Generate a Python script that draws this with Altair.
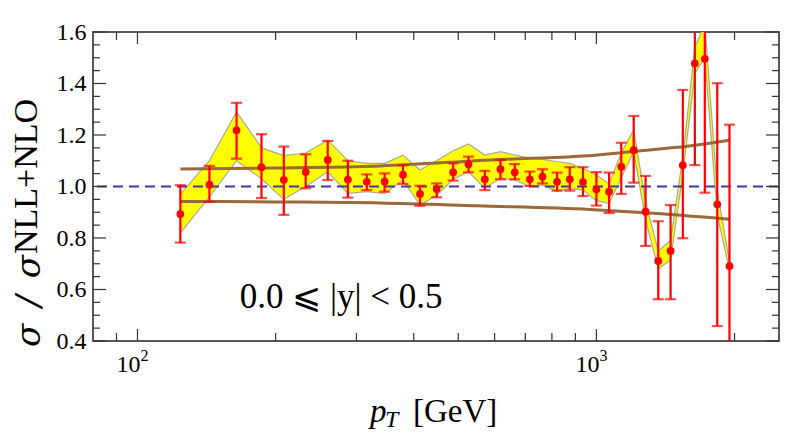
import altair as alt
import pandas as pd

# ---- data ----
pt = [124, 143.5, 164.4, 186.3, 208.4, 232.6, 259.8, 287.4, 316, 345.6, 379, 412.7,
      448.7, 487.5, 526.4, 571.3, 618, 664, 716, 763, 821, 875, 935, 1000, 1066,
      1133, 1206, 1280, 1364, 1451, 1543, 1639, 1723, 1834, 1950]
ratio = [0.893, 1.007, 1.218, 1.075, 1.026, 1.056, 1.103, 1.027, 1.018, 1.019, 1.046, 0.971,
         0.990, 1.055, 1.086, 1.028, 1.067, 1.055, 1.028, 1.038, 1.018, 1.028, 1.017, 0.989,
         0.980, 1.077, 1.141, 0.902, 0.711, 0.750, 1.083, 1.478, 1.496, 0.931, 0.691]
err_hi = [1.005, 1.080, 1.325, 1.203, 1.155, 1.125, 1.177, 1.100, 1.047, 1.051, 1.083, 1.003,
          1.012, 1.090, 1.116, 1.061, 1.103, 1.087, 1.058, 1.067, 1.054, 1.075, 1.075, 1.056,
          1.054, 1.170, 1.274, 1.041, 0.865, 0.928, 1.375, 1.873, 2.016, 1.401, 1.240]
err_lo = [0.782, 0.940, 1.108, 0.955, 0.890, 0.993, 1.025, 0.957, 0.986, 0.980, 1.010, 0.925,
          0.958, 1.023, 1.055, 0.986, 1.028, 1.028, 1.002, 1.012, 0.984, 0.984, 0.963, 0.926,
          0.897, 0.971, 1.015, 0.769, 0.562, 0.562, 0.799, 1.083, 0.976, 0.458, 0.142]
band_lo = [0.82, 0.96, 1.10, 1.03, 0.95, 1.00, 1.057, 0.973, 0.98, 0.973, 1.025, 0.928,
           0.965, 1.028, 1.057, 0.993, 1.032, 1.025, 1.000, 1.006, 0.980, 0.993, 0.986, 0.945,
           0.935, 1.035, 1.135, 0.870, 0.680, 0.715, 1.050, 1.440, 1.500, 0.890, 0.675]
band_hi = [0.97, 1.10, 1.29, 1.15, 1.12, 1.13, 1.180, 1.100, 1.09, 1.090, 1.122, 1.064,
           1.100, 1.139, 1.165, 1.122, 1.135, 1.122, 1.110, 1.105, 1.096, 1.090, 1.070, 1.045,
           1.010, 1.130, 1.220, 0.940, 0.750, 0.790, 1.115, 1.540, 1.630, 0.986, 0.705]

upper_x = [124, 200, 338, 618, 935, 1206, 1500, 1950]
upper_y = [1.068, 1.072, 1.080, 1.105, 1.118, 1.136, 1.152, 1.180]
lower_x = [124, 200, 338, 550, 968, 1280, 1950]
lower_y = [0.942, 0.940, 0.936, 0.925, 0.911, 0.898, 0.873]

y_major = [0.4, 0.6, 0.8, 1.0, 1.2, 1.4, 1.6]
y_minor = [0.45, 0.5, 0.55, 0.65, 0.7, 0.75, 0.85, 0.9, 0.95, 1.05, 1.1, 1.15,
           1.25, 1.3, 1.35, 1.45, 1.5, 1.55]
x_major = [100, 1000]
x_minor = [90, 200, 300, 400, 500, 600, 700, 800, 900, 2000]
x_label_base = ["10", "10"]
x_label_exp = ["2", "3"]

W, H = 686, 309
SERIF = "Liberation Serif"
xs = alt.Scale(type="log", domain=[80, 2500], nice=False)
ys = alt.Scale(domain=[0.4, 1.6], nice=False, zero=False)

df = pd.DataFrame(dict(pt=pt, r=ratio, hi=err_hi, lo=err_lo, blo=band_lo, bhi=band_hi))
up = pd.DataFrame(dict(x=upper_x, y=upper_y))
lo = pd.DataFrame(dict(x=lower_x, y=lower_y))

X = alt.X("pt:Q", scale=xs, axis=None)

band = alt.Chart(df).mark_area(color="#ffff00", stroke="#a9a99a", strokeWidth=1.2,
                               clip=True, opacity=1).encode(
    x=X,
    y=alt.Y("blo:Q", scale=ys, axis=alt.Axis(values=y_major, format=".1f", labelFont=SERIF,
                                             labelFontSize=24, labelColor="black", ticks=False,
                                             domain=False, grid=False, title=None, labelPadding=7)),
    y2="bhi:Q")

brown_u = alt.Chart(up).mark_line(color="#9b6a3a", strokeWidth=3, interpolate="monotone", clip=True).encode(
    x=alt.X("x:Q", scale=xs, axis=None), y=alt.Y("y:Q", scale=ys))
brown_l = alt.Chart(lo).mark_line(color="#9b6a3a", strokeWidth=3, interpolate="monotone", clip=True).encode(
    x=alt.X("x:Q", scale=xs, axis=None), y=alt.Y("y:Q", scale=ys))

dash = alt.Chart(pd.DataFrame({"v": [1.0]})).mark_rule(color="#3c3ca0", strokeWidth=2,
                                                       strokeDash=[10, 6]).encode(
    y=alt.Y("v:Q", scale=ys))

ebar = alt.Chart(df).mark_rule(color="#ff0000", strokeWidth=2.2, clip=True).encode(
    x=X, y=alt.Y("lo:Q", scale=ys), y2="hi:Q")
cap_t = alt.Chart(df).mark_tick(color="#ff0000", orient="horizontal", size=11, thickness=2.2,
                                clip=True).encode(x=X, y=alt.Y("hi:Q", scale=ys))
cap_b = alt.Chart(df).mark_tick(color="#ff0000", orient="horizontal", size=11, thickness=2.2,
                                clip=True).encode(x=X, y=alt.Y("lo:Q", scale=ys))
pts = alt.Chart(df).mark_circle(color="#ff0000", size=60, opacity=1, clip=True).encode(
    x=X, y=alt.Y("r:Q", scale=ys))

# frame ticks (inward)
TC = "#333333"
ymaj = pd.DataFrame({"v": y_major})
ymin = pd.DataFrame({"v": y_minor})
xmaj = pd.DataFrame({"v": x_major})
xmin = pd.DataFrame({"v": x_minor})
ticks = []
for d, L in [(ymaj, 13), (ymin, 7)]:
    ticks.append(alt.Chart(d).mark_rule(color=TC, strokeWidth=1.2).encode(
        y=alt.Y("v:Q", scale=ys), x=alt.value(0), x2=alt.value(L)))
    ticks.append(alt.Chart(d).mark_rule(color=TC, strokeWidth=1.2).encode(
        y=alt.Y("v:Q", scale=ys), x=alt.value(W), x2=alt.value(W - L)))
for d, L in [(xmaj, 12), (xmin, 8)]:
    ticks.append(alt.Chart(d).mark_rule(color=TC, strokeWidth=1.2).encode(
        x=alt.X("v:Q", scale=xs, axis=None), y=alt.value(H), y2=alt.value(H - L)))
    ticks.append(alt.Chart(d).mark_rule(color=TC, strokeWidth=1.2).encode(
        x=alt.X("v:Q", scale=xs, axis=None), y=alt.value(0), y2=alt.value(L)))

# x tick labels 10^2, 10^3
xl = pd.DataFrame({"v": x_major, "b": x_label_base, "e": x_label_exp})
xlab_b = alt.Chart(xl).mark_text(font=SERIF, fontSize=24, align="right", baseline="alphabetic",
                                 dx=3, color="black").encode(
    x=alt.X("v:Q", scale=xs, axis=None), y=alt.value(H + 31), text="b:N")
xlab_e = alt.Chart(xl).mark_text(font=SERIF, fontSize=16, align="left", baseline="alphabetic",
                                 dx=3, color="black").encode(
    x=alt.X("v:Q", scale=xs, axis=None), y=alt.value(H + 20), text="e:N")

one = pd.DataFrame({"a": [0]})
def txt(s, x, y, size, italic=False, angle=0, align="left", font=SERIF):
    kw = dict(font=font, fontSize=size, align=align, baseline="alphabetic", color="black")
    if italic:
        kw["fontStyle"] = "italic"
    if angle:
        kw["angle"] = angle
    return alt.Chart(one).mark_text(**kw).encode(x=alt.value(x), y=alt.value(y), text=alt.value(s))

titles = [
    txt("p", 277, 390, 33, italic=True),
    txt("T", 292, 395, 24, italic=True),
    txt("[GeV]", 320, 390, 33),
    txt("σ\u2002/\u2002σ", -53, 315, 34, italic=True, angle=270, font="DejaVu Serif"),
    txt("NLL+NLO", -56, 222, 34, angle=270),
    txt("0.0 ⩽ |y| < 0.5", 248, 276, 35, align="center"),
]

chart = alt.layer(band, brown_u, brown_l, dash, ebar, cap_t, cap_b, pts,
                  *ticks, xlab_b, xlab_e, *titles).properties(
    width=W, height=H, autosize="none",
    padding={"left": 85, "top": 24, "right": 2, "bottom": 95},
).configure_view(stroke="#222222", strokeWidth=1.5)

chart.save("out.html", embed_options={"renderer": "svg", "actions": False})
